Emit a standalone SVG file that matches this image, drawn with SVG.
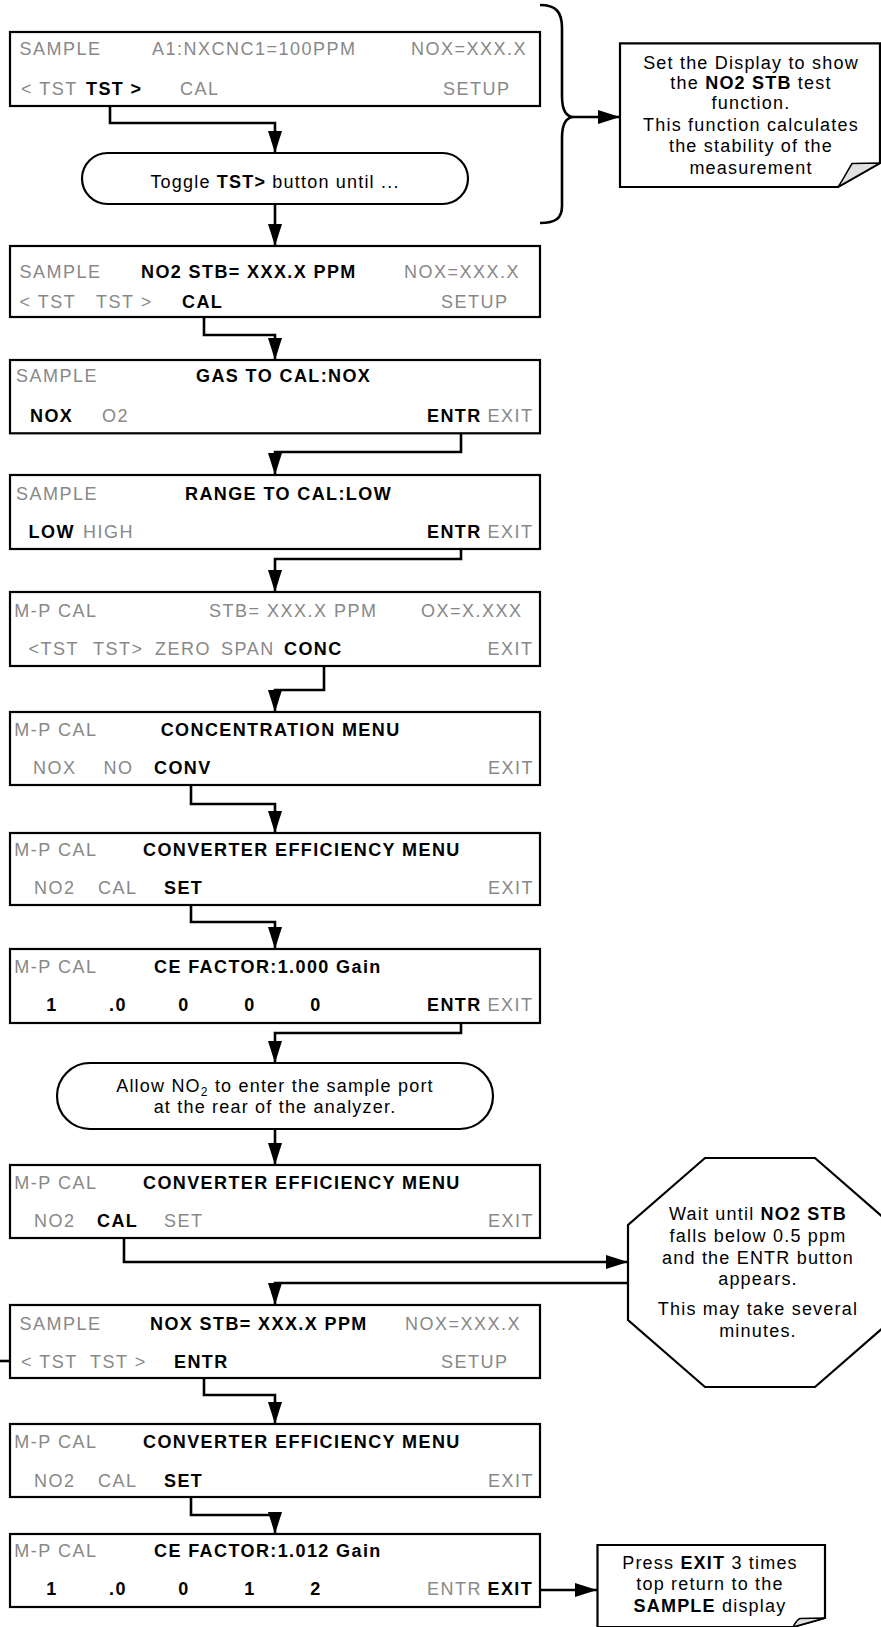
<svg xmlns="http://www.w3.org/2000/svg" width="881" height="1627" viewBox="0 0 881 1627">
<style>
text{font-family:"Liberation Sans",Arial,Helvetica,sans-serif;font-size:18px;letter-spacing:1.5px}
.g{fill:#888}
.k{fill:#000;font-weight:bold;letter-spacing:1.4px}
.t{fill:#000;letter-spacing:1.2px}
.tb{font-weight:bold}
.box{fill:#fff;stroke:#000;stroke-width:2.2}
.ln{fill:none;stroke:#000;stroke-width:2.6}
.c{text-anchor:middle}
.curl{fill:#e0e0e0;stroke:#000;stroke-width:1.5;stroke-linejoin:round}
</style>
<defs>
<marker id="ah" viewBox="0 0 22 14" refX="22" refY="7" markerWidth="22" markerHeight="14" markerUnits="userSpaceOnUse" orient="auto"><path d="M0,0 L22,7 L0,14 Z" fill="#000"/></marker>
</defs>
<rect width="881" height="1627" fill="#fff"/>

<g id="connectors">
<path class="ln" d="M110,97 V123 H275 V153" marker-end="url(#ah)"/>
<path class="ln" d="M275,204 V246" marker-end="url(#ah)"/>
<path class="ln" d="M574,117 H620" marker-end="url(#ah)"/>
<path class="ln" d="M204,310 V335 H275 V360" marker-end="url(#ah)"/>
<path class="ln" d="M461,424 V452 H275 V475" marker-end="url(#ah)"/>
<path class="ln" d="M461,540 V559 H275 V592" marker-end="url(#ah)"/>
<path class="ln" d="M324,657 V690 H275 V712" marker-end="url(#ah)"/>
<path class="ln" d="M191,776 V804 H275 V833" marker-end="url(#ah)"/>
<path class="ln" d="M191,896 V922 H275 V949" marker-end="url(#ah)"/>
<path class="ln" d="M461,1013 V1033 H275 V1063" marker-end="url(#ah)"/>
<path class="ln" d="M275,1129 V1165" marker-end="url(#ah)"/>
<path class="ln" d="M124,1229 V1262 H628" marker-end="url(#ah)"/>
<path class="ln" d="M628,1283 H275 V1305" marker-end="url(#ah)"/>
<path class="ln" d="M0,1361 H10"/>
<path class="ln" d="M204,1370 V1395 H275 V1424" marker-end="url(#ah)"/>
<path class="ln" d="M191,1489 V1515 H275 V1534" marker-end="url(#ah)"/>
<path class="ln" d="M540,1590 H597" marker-end="url(#ah)"/>
</g>

<g id="brace">
<path class="ln" d="M540,5 C556,5 562,12 562,28 L562,96 C562,111 566,117 574,117 C566,117 562,123 562,138 L562,206 C562,218 556,223 540,223"/>
</g>

<g id="n1">
<rect class="box" x="10" y="32" width="530" height="74"/>
<text class="g" x="19.6" y="55">SAMPLE</text>
<text class="g" x="152" y="55">A1:NXCNC1=100PPM</text>
<text class="g" x="411" y="55">NOX=XXX.X</text>
<text class="g" x="21" y="95">&lt; TST</text>
<text class="k" x="86" y="95">TST &gt;</text>
<text class="g" x="180" y="95">CAL</text>
<text class="g" x="443" y="95">SETUP</text>
</g>

<g id="toggle">
<rect class="box" x="82" y="153" width="386" height="51" rx="25.5"/>
<text class="t c" x="275" y="188">Toggle <tspan class="tb">TST&gt;</tspan> button until ...</text>
</g>

<g id="note1">
<path class="box" d="M620,43.3 H880 V163 L838,187 H620 Z"/>
<path class="curl" d="M838,187 C843,180 848,170 852,163.5 L880,163 Z"/>
<text class="t c" x="751" y="69">Set the Display to show</text>
<text class="t c" x="751" y="89">the <tspan class="tb">NO2 STB</tspan> test</text>
<text class="t c" x="751" y="109">function.</text>
<text class="t c" x="751" y="131">This function calculates</text>
<text class="t c" x="751" y="152">the stability of the</text>
<text class="t c" x="751" y="174">measurement</text>
</g>

<g id="n2">
<rect class="box" x="10" y="246" width="530" height="71"/>
<text class="g" x="19.6" y="278">SAMPLE</text>
<text class="k" x="141" y="278">NO2 STB= XXX.X PPM</text>
<text class="g" x="404" y="278">NOX=XXX.X</text>
<text class="g" x="19.6" y="308">&lt; TST</text>
<text class="g" x="96" y="308">TST &gt;</text>
<text class="k" x="182" y="308">CAL</text>
<text class="g" x="441" y="308">SETUP</text>
</g>

<g id="n3">
<rect class="box" x="10" y="360" width="530" height="73.3"/>
<text class="g" x="16" y="382">SAMPLE</text>
<text class="k" x="196" y="382">GAS TO CAL:NOX</text>
<text class="k" x="30" y="422">NOX</text>
<text class="g" x="102" y="422">O2</text>
<text class="k" x="427" y="422">ENTR</text>
<text class="g" x="487.5" y="422">EXIT</text>
</g>

<g id="n4">
<rect class="box" x="10" y="475" width="530" height="74"/>
<text class="g" x="16" y="500">SAMPLE</text>
<text class="k" x="185" y="500">RANGE TO CAL:LOW</text>
<text class="k" x="28.6" y="538">LOW</text>
<text class="g" x="83" y="538">HIGH</text>
<text class="k" x="427" y="538">ENTR</text>
<text class="g" x="487.5" y="538">EXIT</text>
</g>

<g id="n5">
<rect class="box" x="10" y="592" width="530" height="74"/>
<text class="g" x="14.3" y="617">M-P CAL</text>
<text class="g" x="209" y="617">STB= XXX.X PPM</text>
<text class="g" x="421" y="617">OX=X.XXX</text>
<text class="g" x="28.6" y="655">&lt;TST</text>
<text class="g" x="93" y="655">TST&gt;</text>
<text class="g" x="155" y="655">ZERO</text>
<text class="g" x="221" y="655">SPAN</text>
<text class="k" x="284" y="655">CONC</text>
<text class="g" x="487.5" y="655">EXIT</text>
</g>

<g id="n6">
<rect class="box" x="10" y="712" width="530" height="73"/>
<text class="g" x="14.3" y="736">M-P CAL</text>
<text class="k" x="160.7" y="736">CONCENTRATION MENU</text>
<text class="g" x="33" y="774">NOX</text>
<text class="g" x="103.6" y="774">NO</text>
<text class="k" x="154" y="774">CONV</text>
<text class="g" x="488" y="774">EXIT</text>
</g>

<g id="n7">
<rect class="box" x="10" y="833" width="530" height="72"/>
<text class="g" x="14.3" y="856">M-P CAL</text>
<text class="k" x="143" y="856">CONVERTER EFFICIENCY MENU</text>
<text class="g" x="34" y="894">NO2</text>
<text class="g" x="98" y="894">CAL</text>
<text class="k" x="164" y="894">SET</text>
<text class="g" x="488" y="894">EXIT</text>
</g>

<g id="n8">
<rect class="box" x="10" y="949" width="530" height="74"/>
<text class="g" x="14.3" y="973">M-P CAL</text>
<text class="k" x="154" y="973">CE FACTOR:1.000 Gain</text>
<text class="k c" x="52" y="1011">1</text>
<text class="k c" x="118" y="1011">.0</text>
<text class="k c" x="184" y="1011">0</text>
<text class="k c" x="250" y="1011">0</text>
<text class="k c" x="316" y="1011">0</text>
<text class="k" x="427" y="1011">ENTR</text>
<text class="g" x="487.5" y="1011">EXIT</text>
</g>

<g id="allow">
<rect class="box" x="57" y="1063" width="436" height="66" rx="33"/>
<text class="t c" x="275" y="1092">Allow NO<tspan font-size="12" dy="4">2</tspan><tspan dy="-4"> to enter the sample port</tspan></text>
<text class="t c" x="275" y="1113">at the rear of the analyzer.</text>
</g>

<g id="n10">
<rect class="box" x="10" y="1165" width="530" height="73"/>
<text class="g" x="14.3" y="1189">M-P CAL</text>
<text class="k" x="143" y="1189">CONVERTER EFFICIENCY MENU</text>
<text class="g" x="34" y="1227">NO2</text>
<text class="k" x="97" y="1227">CAL</text>
<text class="g" x="164" y="1227">SET</text>
<text class="g" x="488" y="1227">EXIT</text>
</g>

<g id="wait">
<polygon class="box" points="705,1158 815,1158 892,1225 892,1320 815,1387 705,1387 628,1320 628,1225"/>
<text class="t c" x="758" y="1220">Wait until <tspan class="tb">NO2 STB</tspan></text>
<text class="t c" x="758" y="1242">falls below 0.5 ppm</text>
<text class="t c" x="758" y="1264">and the ENTR button</text>
<text class="t c" x="758" y="1285">appears.</text>
<text class="t c" x="758" y="1315">This may take several</text>
<text class="t c" x="758" y="1337">minutes.</text>
</g>

<g id="n11">
<rect class="box" x="10" y="1305" width="530" height="73"/>
<text class="g" x="19.6" y="1330">SAMPLE</text>
<text class="k" x="150" y="1330">NOX STB= XXX.X PPM</text>
<text class="g" x="405" y="1330">NOX=XXX.X</text>
<text class="g" x="21" y="1368">&lt; TST</text>
<text class="g" x="90" y="1368">TST &gt;</text>
<text class="k" x="174" y="1368">ENTR</text>
<text class="g" x="441" y="1368">SETUP</text>
</g>

<g id="n12">
<rect class="box" x="10" y="1424" width="530" height="73"/>
<text class="g" x="14.3" y="1448">M-P CAL</text>
<text class="k" x="143" y="1448">CONVERTER EFFICIENCY MENU</text>
<text class="g" x="34" y="1487">NO2</text>
<text class="g" x="98" y="1487">CAL</text>
<text class="k" x="164" y="1487">SET</text>
<text class="g" x="488" y="1487">EXIT</text>
</g>

<g id="n13">
<rect class="box" x="10" y="1534" width="530" height="73"/>
<text class="g" x="14.3" y="1557">M-P CAL</text>
<text class="k" x="154" y="1557">CE FACTOR:1.012 Gain</text>
<text class="k c" x="52" y="1595">1</text>
<text class="k c" x="118" y="1595">.0</text>
<text class="k c" x="184" y="1595">0</text>
<text class="k c" x="250" y="1595">1</text>
<text class="k c" x="316" y="1595">2</text>
<text class="g" x="427" y="1595">ENTR</text>
<text class="k" x="487.5" y="1595">EXIT</text>
</g>

<g id="note2">
<path class="box" d="M597.5,1545 H825 V1618 L793,1627 H597.5 Z"/>
<path class="curl" d="M793,1627 C795,1623 797,1620 800,1618.5 L825,1618 Z"/>
<text class="t c" x="710" y="1569">Press <tspan class="tb">EXIT</tspan> 3 times</text>
<text class="t c" x="710" y="1590">top return to the</text>
<text class="t c" x="710" y="1612"><tspan class="tb">SAMPLE</tspan> display</text>
</g>
</svg>
